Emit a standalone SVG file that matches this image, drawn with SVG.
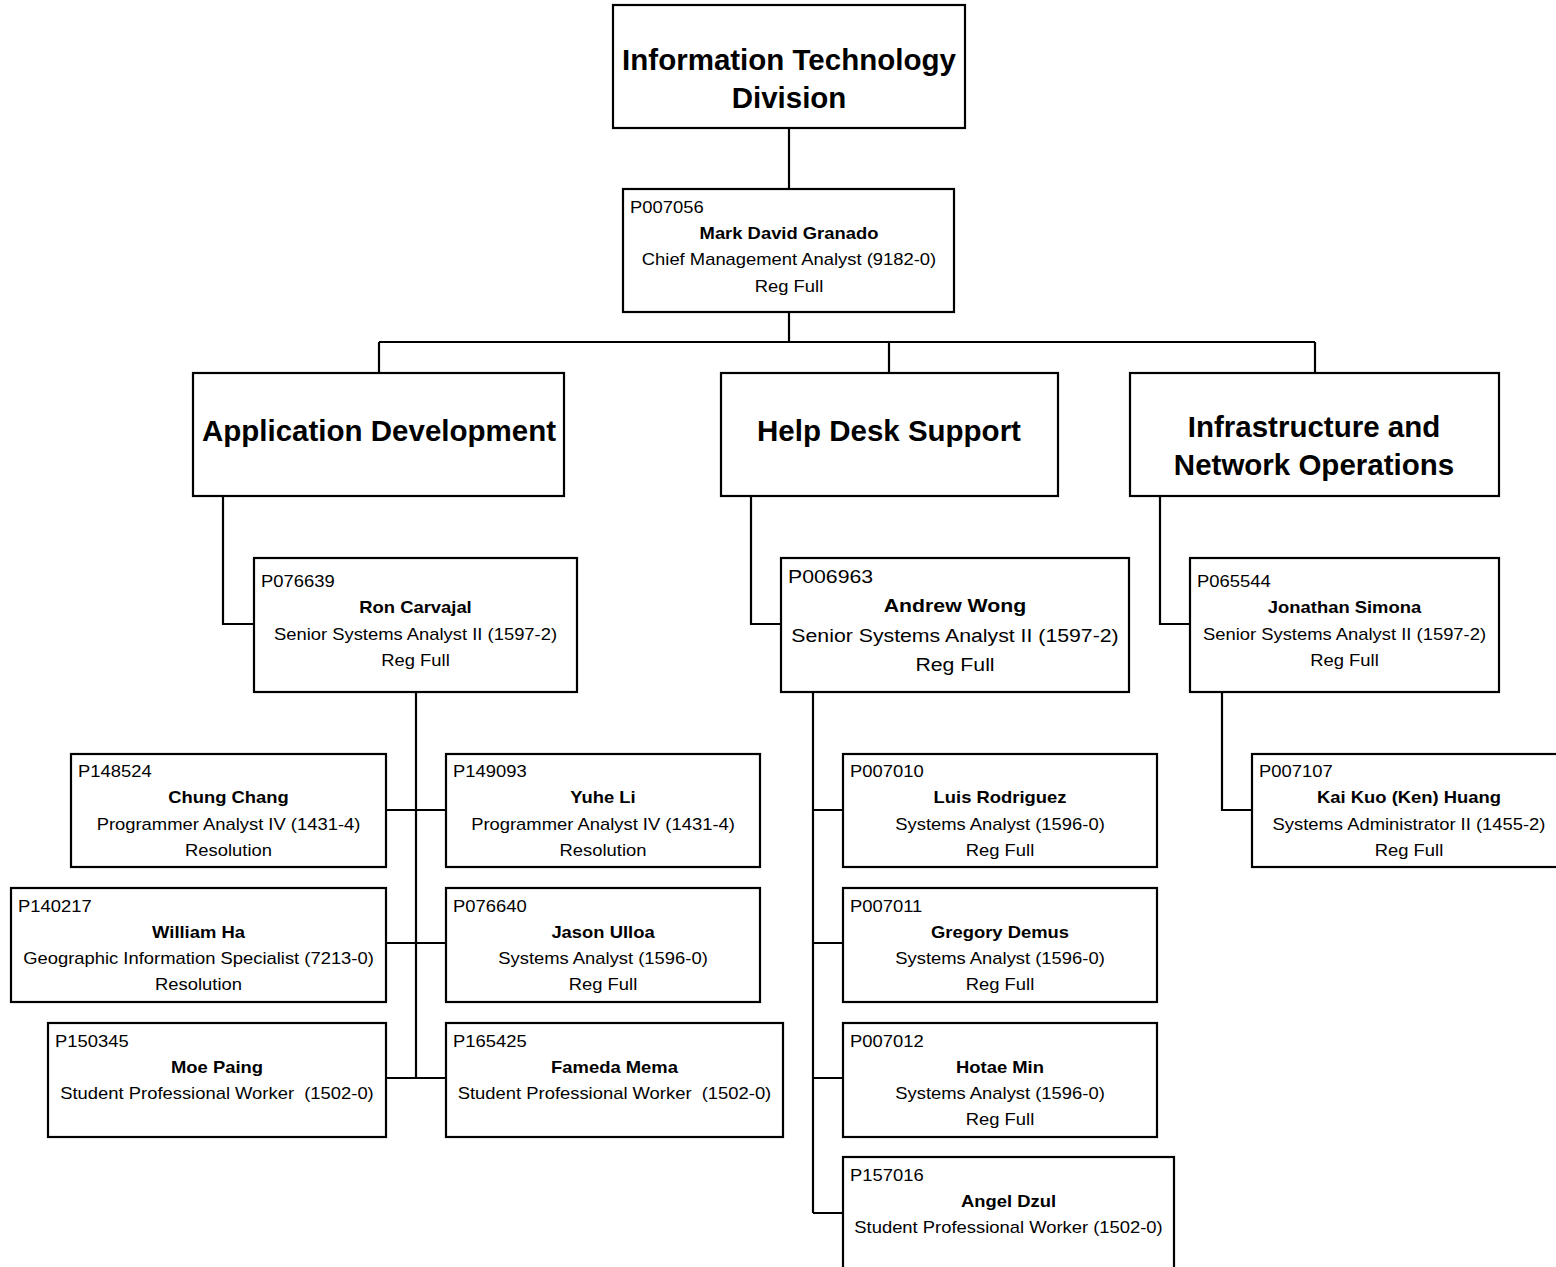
<svg xmlns="http://www.w3.org/2000/svg" width="1556" height="1267" viewBox="0 0 1556 1267">
<style>
  .box{fill:#fff;stroke:#000;stroke-width:2.2}
  .conn{fill:none;stroke:#000;stroke-width:2.2}
  text{font-family:"Liberation Sans",Arial,sans-serif;fill:#000}
  .h{font-size:29.5px;font-weight:bold;text-anchor:middle}
  .s{font-size:16px}
  .m{font-size:19px}
  .c{text-anchor:middle}
  .b{font-weight:bold}
</style>
<rect width="1556" height="1267" fill="#fff"/>
<g id="connectors">
  <path class="conn" d="M789 128V189"/>
  <path class="conn" d="M789 312V342M379 342H1315M379 342V373M889 342V373M1315 342V373"/>
  <path class="conn" d="M223 496V624H254"/>
  <path class="conn" d="M751 496V624H781"/>
  <path class="conn" d="M1160 496V624H1190"/>
  <path class="conn" d="M416 692V1078M386 810H446M386 943H446M386 1078H446"/>
  <path class="conn" d="M813 692V1213M813 810H843M813 943H843M813 1078H843M813 1213H843"/>
  <path class="conn" d="M1222 692V810H1252"/>
</g>
<g id="division">
  <rect class="box" x="613" y="5" width="352" height="123"/>
  <text class="h" x="789" y="70">Information Technology</text>
  <text class="h" x="789" y="107.5">Division</text>
</g>
<g id="p007056">
  <rect class="box" x="623" y="189" width="331" height="123"/>
  <text class="s" transform="translate(630 213) scale(1.15 1)">P007056</text>
  <text class="s c b" transform="translate(789 239) scale(1.15 1)">Mark David Granado</text>
  <text class="s c" transform="translate(789 265) scale(1.15 1)">Chief Management Analyst (9182-0)</text>
  <text class="s c" transform="translate(789 292) scale(1.15 1)">Reg Full</text>
</g>
<g id="appdev">
  <rect class="box" x="193" y="373" width="371" height="123"/>
  <text class="h" x="379" y="441">Application Development</text>
</g>
<g id="helpdesk">
  <rect class="box" x="721" y="373" width="337" height="123"/>
  <text class="h" x="889" y="441">Help Desk Support</text>
</g>
<g id="infra">
  <rect class="box" x="1130" y="373" width="369" height="123"/>
  <text class="h" x="1314" y="437">Infrastructure and</text>
  <text class="h" x="1314" y="475">Network Operations</text>
</g>
<g id="p076639">
  <rect class="box" x="254" y="558" width="323" height="134"/>
  <text class="s" transform="translate(261 587) scale(1.15 1)">P076639</text>
  <text class="s c b" transform="translate(415.5 613) scale(1.15 1)">Ron Carvajal</text>
  <text class="s c" transform="translate(415.5 640) scale(1.15 1)">Senior Systems Analyst II (1597-2)</text>
  <text class="s c" transform="translate(415.5 666) scale(1.15 1)">Reg Full</text>
</g>
<g id="p006963">
  <rect class="box" x="781" y="558" width="348" height="134"/>
  <text class="m" transform="translate(788 583) scale(1.12 1)">P006963</text>
  <text class="m c b" transform="translate(955 612) scale(1.12 1)">Andrew Wong</text>
  <text class="m c" transform="translate(955 642) scale(1.12 1)">Senior Systems Analyst II (1597-2)</text>
  <text class="m c" transform="translate(955 671) scale(1.12 1)">Reg Full</text>
</g>
<g id="p065544">
  <rect class="box" x="1190" y="558" width="309" height="134"/>
  <text class="s" transform="translate(1197 587) scale(1.15 1)">P065544</text>
  <text class="s c b" transform="translate(1344.5 613) scale(1.15 1)">Jonathan Simona</text>
  <text class="s c" transform="translate(1344.5 640) scale(1.15 1)">Senior Systems Analyst II (1597-2)</text>
  <text class="s c" transform="translate(1344.5 666) scale(1.15 1)">Reg Full</text>
</g>
<g id="p148524">
  <rect class="box" x="71" y="754" width="315" height="113"/>
  <text class="s" transform="translate(78 777) scale(1.15 1)">P148524</text>
  <text class="s c b" transform="translate(228.5 803) scale(1.15 1)">Chung Chang</text>
  <text class="s c" transform="translate(228.5 830) scale(1.15 1)">Programmer Analyst IV (1431-4)</text>
  <text class="s c" transform="translate(228.5 856) scale(1.15 1)">Resolution</text>
</g>
<g id="p140217">
  <rect class="box" x="11" y="888" width="375" height="114"/>
  <text class="s" transform="translate(18 912) scale(1.15 1)">P140217</text>
  <text class="s c b" transform="translate(198.5 938) scale(1.15 1)">William Ha</text>
  <text class="s c" transform="translate(198.5 964) scale(1.15 1)">Geographic Information Specialist (7213-0)</text>
  <text class="s c" transform="translate(198.5 990) scale(1.15 1)">Resolution</text>
</g>
<g id="p150345">
  <rect class="box" x="48" y="1023" width="338" height="114"/>
  <text class="s" transform="translate(55 1047) scale(1.15 1)">P150345</text>
  <text class="s c b" transform="translate(217 1073) scale(1.15 1)">Moe Paing</text>
  <text class="s c" transform="translate(217 1099) scale(1.15 1)" xml:space="preserve">Student Professional Worker  (1502-0)</text>
</g>
<g id="p149093">
  <rect class="box" x="446" y="754" width="314" height="113"/>
  <text class="s" transform="translate(453 777) scale(1.15 1)">P149093</text>
  <text class="s c b" transform="translate(603 803) scale(1.15 1)">Yuhe Li</text>
  <text class="s c" transform="translate(603 830) scale(1.15 1)">Programmer Analyst IV (1431-4)</text>
  <text class="s c" transform="translate(603 856) scale(1.15 1)">Resolution</text>
</g>
<g id="p076640">
  <rect class="box" x="446" y="888" width="314" height="114"/>
  <text class="s" transform="translate(453 912) scale(1.15 1)">P076640</text>
  <text class="s c b" transform="translate(603 938) scale(1.15 1)">Jason Ulloa</text>
  <text class="s c" transform="translate(603 964) scale(1.15 1)">Systems Analyst (1596-0)</text>
  <text class="s c" transform="translate(603 990) scale(1.15 1)">Reg Full</text>
</g>
<g id="p165425">
  <rect class="box" x="446" y="1023" width="337" height="114"/>
  <text class="s" transform="translate(453 1047) scale(1.15 1)">P165425</text>
  <text class="s c b" transform="translate(614.5 1073) scale(1.15 1)">Fameda Mema</text>
  <text class="s c" transform="translate(614.5 1099) scale(1.15 1)" xml:space="preserve">Student Professional Worker  (1502-0)</text>
</g>
<g id="p007010">
  <rect class="box" x="843" y="754" width="314" height="113"/>
  <text class="s" transform="translate(850 777) scale(1.15 1)">P007010</text>
  <text class="s c b" transform="translate(1000 803) scale(1.15 1)">Luis Rodriguez</text>
  <text class="s c" transform="translate(1000 830) scale(1.15 1)">Systems Analyst (1596-0)</text>
  <text class="s c" transform="translate(1000 856) scale(1.15 1)">Reg Full</text>
</g>
<g id="p007011">
  <rect class="box" x="843" y="888" width="314" height="114"/>
  <text class="s" transform="translate(850 912) scale(1.15 1)">P007011</text>
  <text class="s c b" transform="translate(1000 938) scale(1.15 1)">Gregory Demus</text>
  <text class="s c" transform="translate(1000 964) scale(1.15 1)">Systems Analyst (1596-0)</text>
  <text class="s c" transform="translate(1000 990) scale(1.15 1)">Reg Full</text>
</g>
<g id="p007012">
  <rect class="box" x="843" y="1023" width="314" height="114"/>
  <text class="s" transform="translate(850 1047) scale(1.15 1)">P007012</text>
  <text class="s c b" transform="translate(1000 1073) scale(1.15 1)">Hotae Min</text>
  <text class="s c" transform="translate(1000 1099) scale(1.15 1)">Systems Analyst (1596-0)</text>
  <text class="s c" transform="translate(1000 1125) scale(1.15 1)">Reg Full</text>
</g>
<g id="p157016">
  <rect class="box" x="843" y="1157" width="331" height="116"/>
  <text class="s" transform="translate(850 1181) scale(1.15 1)">P157016</text>
  <text class="s c b" transform="translate(1008.5 1207) scale(1.15 1)">Angel Dzul</text>
  <text class="s c" transform="translate(1008.5 1233) scale(1.15 1)">Student Professional Worker (1502-0)</text>
</g>
<g id="p007107">
  <rect class="box" x="1252" y="754" width="314" height="113"/>
  <text class="s" transform="translate(1259 777) scale(1.15 1)">P007107</text>
  <text class="s c b" transform="translate(1409 803) scale(1.15 1)">Kai Kuo (Ken) Huang</text>
  <text class="s c" transform="translate(1409 830) scale(1.15 1)">Systems Administrator II (1455-2)</text>
  <text class="s c" transform="translate(1409 856) scale(1.15 1)">Reg Full</text>
</g>
</svg>
